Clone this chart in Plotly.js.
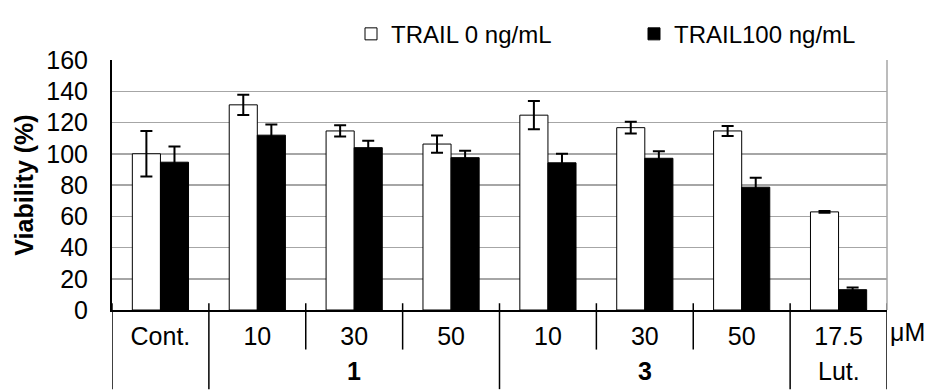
<!DOCTYPE html>
<html><head><meta charset="utf-8">
<script src="https://cdn.plot.ly/plotly-3.0.1.min.js"></script>
<style>body{margin:0;background:#fff}#c{width:930px;height:390px}</style>
</head><body><div id="c"></div>
<script>
// Data
const doseLabels = ['Cont.', '10', '30', '50', '10', '30', '50', '17.5'];
const groupOf    = ['',      '1',  '1',  '1',  '3',  '3',  '3',  'Lut.'];
const groupNames = ['1', '3', 'Lut.'];
const trail0     = [100, 131.3, 114.6, 106.2, 124.7, 116.7, 114.6, 62.8];
const trail0Err  = [14.6, 6.5, 3.6, 5.5, 9.0, 3.8, 3.2, 0.5];
const trail100   = [94.6, 111.9, 103.9, 97.5, 94.2, 97.1, 78.6, 13.0];
const trail100Err= [10.0, 6.8, 4.5, 4.5, 5.8, 4.5, 6.0, 1.4];
const yTicks     = [0, 20, 40, 60, 80, 100, 120, 140, 160];
const unitLabel  = 'μM';

const idx = doseLabels.map((_, i) => i);
const FONT = 'Liberation Sans, Arial, sans-serif';
const FS = 25;

const traces = [
  {type:'bar', name:'TRAIL 0 ng/mL', x: idx, y: trail0, legend:'legend',
   marker:{color:'#ffffff', line:{color:'#000000', width:1}},
   error_y:{type:'data', array: trail0Err, visible:true, color:'#000', thickness:2, width:6}},
  {type:'bar', name:'TRAIL100 ng/mL', x: idx, y: trail100, legend:'legend2',
   marker:{color:'#000000', line:{color:'#000000', width:1}},
   error_y:{type:'data', array: trail100Err, visible:true, color:'#000', thickness:2, width:6}}
];

// divider lines below the axis
const shapes = [];
const tickTop = 7/259, rowBottom = -41/259, fullBottom = -82/259;
for (let b = 0; b <= doseLabels.length; b++) {
  const left = b - 1, right = b;
  const gL = left >= 0 ? groupOf[left] : null;
  const gR = right < doseLabels.length ? groupOf[right] : null;
  const full = (gL === null || gR === null || gL !== gR);
  shapes.push({type:'line', xref:'x', yref:'paper', x0: b - 0.5, x1: b - 0.5,
    y0: tickTop, y1: full ? fullBottom : rowBottom, line:{color:'#000', width:1.5}});
}
// right border
shapes.push({type:'line', xref:'paper', yref:'paper', x0:1, x1:1, y0:0, y1:1,
  line:{color:'#a6a6a6', width:1.5}});

const annotations = groupNames.map(g => {
  const members = idx.filter(i => groupOf[i] === g);
  const c = members.reduce((a, b) => a + b, 0) / members.length;
  return {xref:'x', yref:'paper', x: c, y: -79.5/259.2, text: g === 'Lut.' ? g : '<b>' + g + '</b>',
    showarrow:false, font:{family:FONT, size:FS, color:'#000'}, yanchor:'bottom'};
});
annotations.push({xref:'paper', yref:'paper', x:1, xshift:1, y:-23/259, text:unitLabel,
  showarrow:false, xanchor:'left', yanchor:'middle', font:{family:FONT, size:FS, color:'#000'}});

const legendBase = {orientation:'h', xanchor:'left', y:1.103, yanchor:'middle',
  font:{family:FONT, size:24, color:'#000'}, bgcolor:'rgba(0,0,0,0)'};

const layout = {
  width:930, height:390,
  margin:{l:112, r:43, t:51, b:80},
  paper_bgcolor:'#fff', plot_bgcolor:'#fff',
  font:{family:FONT, size:FS, color:'#000'},
  barmode:'group', bargap:0.42, bargroupgap:0,
  showlegend:true,
  legend: Object.assign({}, legendBase, {x:(351-112)/775}),
  legend2: Object.assign({}, legendBase, {x:(634-112)/775}),
  xaxis:{range:[-0.5, 7.5], tickvals: idx, ticktext: doseLabels, ticks:'',
    showline:true, linecolor:'#000', linewidth:2, showgrid:false, zeroline:false,
    tickfont:{family:FONT, size:FS, color:'#000'}, ticklabelstandoff:3, fixedrange:true},
  yaxis:{range:[0, 160], tickvals: yTicks, ticks:'', showline:true, linecolor:'#000', linewidth:2,
    showgrid:true, gridcolor:'#a6a6a6', gridwidth:1.5, zeroline:false,
    tickfont:{family:FONT, size:FS, color:'#000'}, ticklabelstandoff:17,
    title:{text:'<b>Viability (%)</b>', font:{family:FONT, size:25, color:'#000'}, standoff:6}},
  shapes, annotations
};
Plotly.newPlot('c', traces, layout, {displayModeBar:false, staticPlot:true});
</script></body></html>
